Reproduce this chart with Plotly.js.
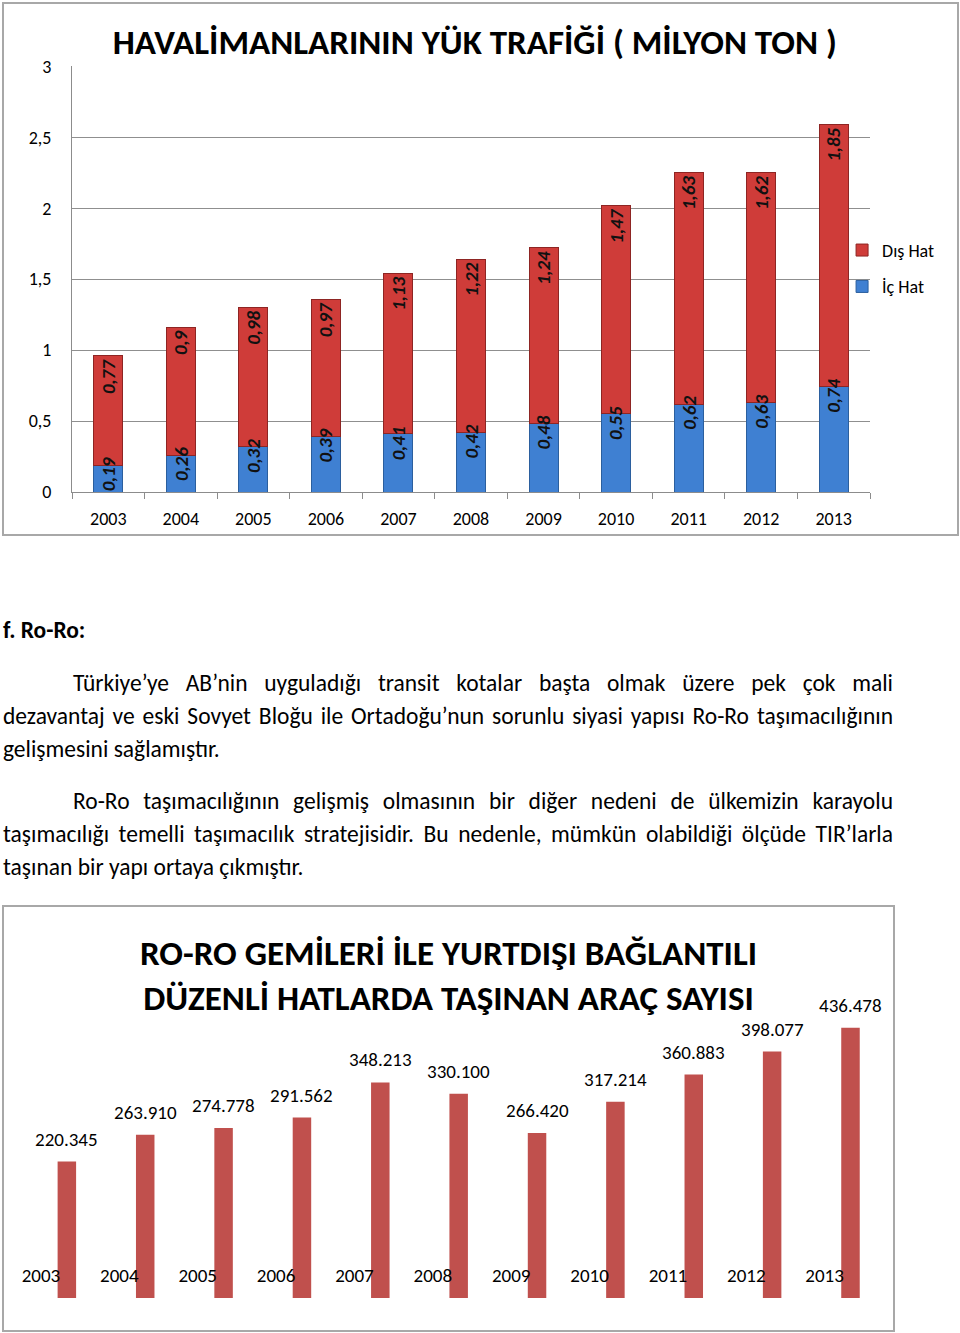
<!DOCTYPE html>
<html><head><meta charset="utf-8">
<script src="https://cdn.plot.ly/plotly-3.0.1.min.js"></script>
<style>
body{margin:0;background:#fff;width:960px;height:1333px;position:relative;overflow:hidden;font-family:Calibri,Carlito,Lato,sans-serif;color:#000;}
.chart{position:absolute;}
.frame{position:absolute;border:2px solid #a8a8a8;box-sizing:border-box;pointer-events:none;z-index:5;}
.ln{position:absolute;height:33px;line-height:33px;font-size:23.5px;white-space:nowrap;}
.j{text-align:justify;text-align-last:justify;overflow:visible;}
</style>
</head><body>
<div id="c1" class="chart" style="left:3px;top:3px;width:955px;height:532px;"></div>
<div class="frame" style="left:2px;top:2px;width:957px;height:534px;"></div>

<div class="ln" style="left:3px;top:614px;font-weight:bold;">f. Ro-Ro:</div>
<div class="ln j" style="left:73px;top:667px;width:820px;">Türkiye’ye AB’nin uyguladığı transit kotalar başta olmak üzere pek çok mali</div>
<div class="ln j" style="left:3px;top:700px;width:890px;">dezavantaj ve eski Sovyet Bloğu ile Ortadoğu’nun sorunlu siyasi yapısı Ro-Ro taşımacılığının</div>
<div class="ln" style="left:3px;top:733px;">gelişmesini sağlamıştır.</div>
<div class="ln j" style="left:73px;top:785px;width:820px;">Ro-Ro taşımacılığının gelişmiş olmasının bir diğer nedeni de ülkemizin karayolu</div>
<div class="ln j" style="left:3px;top:818px;width:890px;">taşımacılığı temelli taşımacılık stratejisidir. Bu nedenle, mümkün olabildiği ölçüde TIR’larla</div>
<div class="ln" style="left:3px;top:851px;">taşınan bir yapı ortaya çıkmıştır.</div>

<div id="c2" class="chart" style="left:3px;top:906px;width:891px;height:425px;"></div>
<div class="frame" style="left:2px;top:905px;width:893px;height:427px;"></div>

<script>
// ---- Chart 1 data: Havalimanları yük trafiği (milyon ton)
const years = ['2003','2004','2005','2006','2007','2008','2009','2010','2011','2012','2013'];
const icHat = [0.19,0.26,0.32,0.39,0.41,0.42,0.48,0.55,0.62,0.63,0.74];
const disHat = [0.77,0.9,0.98,0.97,1.13,1.22,1.24,1.47,1.63,1.62,1.85];
const seriesNames = ['İç Hat','Dış Hat'];

// ---- Chart 2 data: Ro-Ro araç sayısı
const roroYears = ['2003','2004','2005','2006','2007','2008','2009','2010','2011','2012','2013'];
const roroVehicles = [220345,263910,274778,291562,348213,330100,266420,317214,360883,398077,436478];

// fit justified lines that are wider than their box
document.querySelectorAll('.ln.j').forEach(el=>{
  let ls = 0;
  el.style.whiteSpace='nowrap';
  while (el.scrollWidth > el.clientWidth + 0.5 && ls > -1.5) { ls -= 0.05; el.style.letterSpacing = ls + 'px'; }
});

const FONT = 'Calibri, Carlito, Lato, sans-serif';
const cfg = {displayModeBar:false, staticPlot:true};
const labelFont = {family: FONT, size: 19, color: '#111', weight: 'bold', style: 'italic'};
const commaFmt = v => String(v).replace('.', ',');

const t1 = {
  type:'bar', name: seriesNames[0], x: years, y: icHat, legendgroup:'a', legendrank:2,
  marker:{color:'#3f80d2', line:{color:'#2b5f9e', width:1}}, hoverinfo:'skip'
};
const t2 = {
  type:'bar', name: seriesNames[1], x: years, y: disHat, legendgroup:'b', legendrank:1,
  marker:{color:'#cf3c39', line:{color:'#8e2523', width:1}},
  texttemplate:'%{y:.2~f}', textposition:'inside', insidetextanchor:'end',
  textangle:-90, constraintext:'none', textfont: labelFont, insidetextfont: labelFont, hoverinfo:'skip'
};

Plotly.newPlot('c1', [t1, t2], {
  width:955, height:532,
  margin:{l:69, r:88, t:63, b:43, autoexpand:false},
  barmode:'stack', bargap:0.6,
  separators:',.',
  paper_bgcolor:'#fff', plot_bgcolor:'#fff',
  font:{family:FONT, color:'#000'},
  title:{text:'HAVALİMANLARININ YÜK TRAFİĞİ ( MİLYON TON )', font:{family:FONT, size:35, weight:'bold', color:'#000'},
         x:0.494, xanchor:'center', xref:'container', y:0.927, yanchor:'middle', yref:'container'},
  xaxis:{type:'category', range:[-0.5, years.length-0.5], showline:true, linecolor:'#8c8c8c', linewidth:1, ticks:'outside', tickson:'boundaries',
         ticklen:6, tickcolor:'#8c8c8c', tickfont:{family:FONT, size:18, color:'#000'}, showgrid:false, ticklabelstandoff:10},
  yaxis:{range:[0,3.002], tickvals:[0,0.5,1,1.5,2,2.5,3], showgrid:true, gridcolor:'#8f8f8f', gridwidth:1, showline:true, linecolor:'#8c8c8c',
         zeroline:false, ticks:'', tickfont:{family:FONT, size:18, color:'#000'}, ticklabelstandoff:16},
  legend:{x:0.965, xanchor:'left', y:0.525, yanchor:'middle', traceorder:'grouped', tracegroupgap:10,
          font:{family:FONT, size:18, color:'#000'}, itemwidth:30, bgcolor:'rgba(0,0,0,0)'},
  showlegend:true,
  annotations: icHat.map((v,i)=>({x: i, y: v, xref:'x', yref:'y', text: commaFmt(v), textangle:-90,
     showarrow:false, yanchor:'top', xanchor:'center', yshift:10, font: labelFont}))
}, cfg);

// ---- Chart 2
function fmtTR(v){ return String(v).replace(/\B(?=(\d{3})+(?!\d))/g, '.'); }
const barOffset = 0.212, barWidth = 0.236;
const t3 = {
  type:'bar', x: roroYears, y: roroVehicles, width: barWidth, offset: barOffset,
  marker:{color:'#c0504d'}, showlegend:false, hoverinfo:'skip'
};
Plotly.newPlot('c2', [t3], {
  width:891, height:425,
  margin:{l:3, r:20, t:94, b:33, autoexpand:false},
  paper_bgcolor:'#fff', plot_bgcolor:'#fff',
  font:{family:FONT, color:'#000'},
  title:{text:'RO-RO GEMİLERİ İLE YURTDIŞI BAĞLANTILI<br>DÜZENLİ HATLARDA TAŞINAN ARAÇ SAYISI',
         font:{family:FONT, size:35, weight:'bold', color:'#000'},
         x:0.5, xanchor:'center', xref:'container', y:0.862, yanchor:'middle', yref:'container'},
  xaxis:{type:'category', range:[-0.4466, 10.63], showline:false, showgrid:false, ticks:'', zeroline:false,
         ticklabelposition:'inside', ticklabelstandoff:9, tickfont:{family:FONT, size:19, color:'#000'}},
  yaxis:{visible:false, range:[0, 481400]},
  annotations: roroVehicles.map((v,i)=>({x: i + barOffset + barWidth/2, y: v, xref:'x', yref:'y',
     text: fmtTR(v), showarrow:false, yanchor:'bottom', yshift:9, font:{family:FONT, size:19, color:'#000'}}))
}, cfg);
</script>
</body></html>
